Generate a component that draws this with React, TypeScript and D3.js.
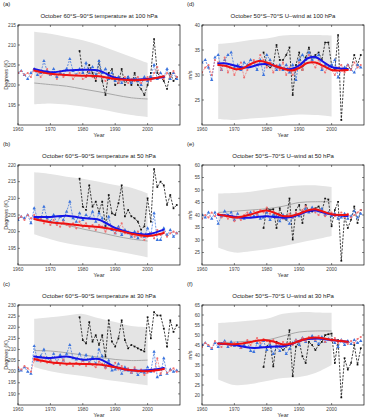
import * as d3 from 'd3';
import * as React from 'react';

const width = 366;
const height = 420;
const panelW = 162;
const panelH = 100;
const font = '"Liberation Sans", Arial, sans-serif';

const years = d3.range(1960, 2010);
const obsYears = d3.range(1979, 2010);
const bandYears = [1965, 1970, 1975, 1980, 1985, 1990, 1995, 2000];
const fitYears5 = [1965, 1970, 1975, 1980, 1985, 1990, 1995, 2000, 2005];
const fitYears25 = [1965, 1967.5, 1970, 1972.5, 1975, 1977.5, 1980, 1982.5, 1985, 1987.5, 1990, 1992.5, 1995, 1997.5, 2000, 2002.5, 2005];

// (a) temperature 100 hPa
const aBlue = [203, 203.5, 202.5, 201.5, 203, 204, 202.5, 203, 206, 203.5, 202.5, 204, 202, 203, 202.5, 204, 206.5, 203.5, 202.5, 204, 203, 205.5, 203, 204.5, 202.5, 206, 203, 204, 201.5, 203, 201, 202, 200.5, 201.5, 202, 200.5, 201.5, 201, 200, 202, 201, 202, 205, 201.5, 203, 202, 204, 201.5, 203, 201.5];
const aRed = [203, 203.5, 202.5, 203, 202, 204, 203.5, 202, 203, 204, 202.5, 203, 201.5, 203.5, 202, 202.5, 203, 201.5, 202.5, 203, 201.5, 202, 203.5, 202, 201.5, 203, 202, 201, 202.5, 201.5, 202, 200.5, 201.5, 202, 200.5, 201.5, 201, 202, 200.5, 201.5, 202, 201, 203, 204.5, 202, 201.5, 203, 202, 203.5, 202];
const aObs = [208.5, 203, 202, 205, 203, 201, 206, 201, 197.5, 203, 204, 200, 200.5, 204, 200, 202, 200, 203, 200, 199, 197.5, 200, 203, 211.5, 203, 202, 201, 199, 203, 201, 202];
const aBandHi = [213.3, 212.8, 212, 211.2, 210, 208.5, 207, 205.5];
const aBandLo = [195.2, 195.4, 195.1, 194.6, 194, 193.2, 192.5, 192];
const aGray = [200.5, 200.1, 199.7, 199, 198.3, 197.5, 196.8, 196.5];
const aBlueFit = [204, 203.2, 203.6, 203.8, 203.6, 201.8, 201.3, 201.5, 202];
const aRedFit = [203.6, 202.8, 202.5, 202.3, 202.2, 201.5, 201.2, 201.4, 202.2];

// (b) temperature 50 hPa
const bBlue = [203.5, 204.5, 204, 205, 202.5, 207, 204, 203.5, 207.5, 204, 203, 205, 202.5, 204.5, 203.5, 206, 209, 204, 203, 205.5, 203.5, 205, 204, 206, 203, 205.5, 204, 201, 204.5, 200.5, 199.5, 201.5, 199, 200.5, 199.5, 198.5, 200, 198, 199.5, 198.5, 201, 199, 205.5, 197.5, 197.5, 201, 199, 200.5, 198.5, 199.5];
const bRed = [204, 204.5, 203.5, 205, 204, 205, 203.5, 204, 202.5, 203.5, 202, 203.5, 202, 201.5, 203, 202, 201.5, 202.5, 201, 203, 201.5, 202.5, 201, 202, 200.5, 202, 201.5, 200, 202, 201, 199.5, 201, 202.5, 199.5, 200, 199, 198.5, 200, 198.5, 197.5, 198.5, 199.5, 198, 200.5, 199, 200, 198.5, 199.5, 200, 199.5];
const bObs = [215.9, 207.5, 206.5, 213.9, 207.5, 209, 206, 209, 201.6, 211, 205.5, 205, 208.5, 213.9, 204.6, 206.5, 204.6, 204, 203, 200.6, 201.6, 210, 203, 218.8, 213.4, 215, 213.9, 208, 211, 207, 208];
const bBandHi = [217.8, 217.3, 216.5, 215.9, 215, 214, 213.2, 211.5];
const bBandLo = [199.2, 197.7, 196.5, 195.7, 195, 194.2, 193.3, 192.3];
const bGray = [204.2, 203, 202, 200.8, 199.8, 198.7, 197.8, 197.2];
const bBlueFit = [204.4, 204.4, 204.8, 204.1, 203.6, 201.1, 199.6, 199.2, 200.6];
const bRedFit = [203.8, 202.8, 202.4, 201.8, 201.4, 200.6, 199.4, 198.7, 199.6];

// (c) temperature 30 hPa
const cBlue = [201, 200.5, 202, 200, 199, 211.5, 205, 207, 210, 206, 205, 208, 204, 207.5, 205, 208, 212, 206, 205.5, 208, 205, 207.5, 204, 206.5, 203.5, 210, 207, 202, 205, 200.5, 201, 203.5, 199, 202, 200.5, 199.5, 201, 198.5, 200, 199.5, 202, 200, 209, 197.5, 198.5, 206, 199, 201, 200, 200.5];
const cRed = [202, 201, 202.5, 201.5, 200, 205, 206, 204.5, 206.5, 204, 205, 203.5, 204.5, 203, 205.5, 203, 204, 202.5, 204, 203, 205, 202.5, 204, 203, 202, 204.5, 203.5, 201.5, 203, 202, 204, 201, 202.5, 200.5, 201.5, 199.5, 202, 200, 201, 198.5, 199.5, 201, 200, 206, 199, 201.5, 199.5, 200.5, 201.5, 200];
const cObs = [224.5, 214.2, 212.7, 222.3, 213.5, 216.4, 212, 216.4, 206.8, 223.1, 213.5, 211.3, 215, 223.1, 214.2, 210.5, 212, 211.3, 210.5, 209.8, 209.1, 224.5, 215, 226.8, 225.3, 225.3, 219.4, 211.3, 223.1, 217.9, 220.9];
const cBandHi = [223.8, 224.5, 225.3, 226, 224, 222.3, 220.5, 220];
const cBandLo = [202.1, 200.2, 199, 198, 196.8, 195.8, 194.8, 193.9];
const cGray = [209.5, 209.3, 208.5, 207.5, 206.5, 205.5, 205, 205.2];
const cBlueFit = [206.8, 206.1, 206.8, 205.4, 205.7, 202.1, 200.6, 200.6, 201.7];
const cRedFit = [205.7, 204.2, 203.6, 203.5, 203.2, 202, 200.6, 200.2, 201.2];

// (d) U-wind 100 hPa
const dBlue = [32.5, 33, 31.5, 29, 33.5, 34, 31, 33, 34, 34.5, 31.5, 32, 31, 32.5, 32, 33, 32.5, 31, 33, 30, 34, 33, 32, 31, 32, 31, 32, 30.5, 32, 29, 33, 34, 33, 34.5, 33, 33.5, 34, 31, 32, 31.5, 32, 33, 29.5, 31, 31.5, 32, 31, 30.5, 32, 31.5];
const dRed = [30.5, 31.5, 32, 30, 33, 32.5, 31, 33.5, 30.5, 32, 30, 31.5, 32.5, 29.5, 31, 32, 33, 32, 34, 33, 31.5, 32.5, 30.5, 32, 31, 32.5, 30, 31.5, 30, 31, 32.5, 31, 33, 34, 32.5, 31.5, 33, 31.5, 30.5, 32, 31, 30, 31.5, 32, 30.5, 32, 31, 32.5, 31.5, 32];
const dObs = [34.5, 32, 31.5, 32, 36, 33, 33, 34, 35.5, 26, 32, 34.5, 31, 33.5, 35.5, 33, 34, 34.5, 33, 36.5, 36.5, 32, 31, 38, 21, 31, 32, 31, 34, 32, 34];
const dBandHi = [36.2, 36.5, 37, 37.3, 37.9, 38, 38, 37.9];
const dBandLo = [21.2, 21, 21.3, 21.5, 21.8, 22.1, 22, 21.7];
const dBlueFit = [32.3, 32.3, 31.9, 31.5, 31.6, 32.1, 32.2, 31.8, 31.3, 31.2, 31.9, 33.3, 33.6, 32.6, 31.6, 31.3, 31.2];
const dRedFit = [32, 31.8, 31.2, 31.3, 32.2, 32.8, 32.5, 31.8, 31.3, 30.9, 31.4, 32.4, 32.5, 31.8, 31, 30.9, 31];

// (e) U-wind 50 hPa
const eBlue = [40, 39, 41, 38.5, 41, 36.5, 39.5, 41.5, 40, 41, 38, 40.5, 39, 38.5, 40, 41, 39.5, 40.5, 38.5, 39, 41, 38, 40, 39.5, 37.5, 40, 38.5, 36.5, 39, 40.5, 39.5, 41.5, 42.5, 41, 43, 42, 41.5, 42.5, 40, 41, 39.5, 40.5, 38.5, 39, 40.5, 38.5, 39.5, 41.5, 39, 40.5];
const eRed = [38.5, 40, 39, 41, 39.5, 40.5, 39, 40, 38.5, 39.5, 37.5, 39, 38, 40, 41, 39.5, 41.5, 40, 42, 41, 43, 40.5, 41.5, 39, 40, 38.5, 39.5, 40.5, 39, 41, 40, 42, 43.5, 41.5, 42, 41, 40, 41.5, 39.5, 40.5, 41, 39.5, 40, 41, 39, 40.5, 39, 40, 41, 42];
const eObs = [34.8, 42.7, 42, 42.3, 34.8, 42.7, 38.8, 38.1, 46.6, 30.2, 42, 44, 36.8, 44, 41.4, 41.4, 42.7, 43.4, 41.4, 46.6, 46.2, 35.5, 42, 45.3, 21.7, 39.4, 34.8, 38.1, 43.4, 36.8, 42];
const eBandHi = [48.6, 48.8, 49.3, 50.3, 51.2, 51.8, 51.9, 51.2];
const eBandLo = [27, 25, 25.5, 26.3, 27.5, 28.9, 30.2, 31.6];
const eGray = [41, 41.5, 42, 42.5, 43.5, 45, 45.3, 45.3];
const eBlueFit = [40, 39.8, 39.3, 38.9, 38.9, 39.3, 39.5, 39.2, 38.9, 39.2, 40.2, 41.4, 41.8, 41, 40.2, 39.8, 39.6];
const eRedFit = [40.2, 39.6, 39, 39.4, 40.2, 41.2, 41.8, 40.8, 39.6, 39.6, 40.5, 41.8, 42.3, 41.3, 40.3, 40, 40.1];

// (f) U-wind 30 hPa
const fBlue = [45, 46, 44.5, 43, 46, 44, 45.5, 47, 44, 46.5, 44.5, 46, 43.5, 45, 46.5, 42, 41.5, 46, 44.5, 47, 42.5, 45, 40.5, 44, 42, 44.5, 40.5, 43, 46, 47.5, 45, 48.5, 46.5, 48, 49.5, 47, 45.5, 49, 46.5, 48, 47.5, 46, 44, 47.5, 45, 47, 45.5, 47.5, 46, 47];
const fRed = [44, 46, 45, 43.5, 47, 45.5, 44, 46.5, 45, 44.5, 46, 45, 43.5, 46, 47.5, 45, 47, 48.5, 46, 48, 47, 46, 47.5, 45, 44, 46.5, 44.5, 46, 45, 47.5, 46.5, 48.5, 47, 49, 48, 47.5, 49.5, 48, 46.5, 48, 47, 48.5, 46, 47.5, 46.5, 45.5, 47, 46, 48, 49];
const fObs = [34, 44.2, 46.6, 34.3, 46.6, 44.2, 42.5, 44.2, 52.4, 29.4, 44.2, 46.6, 39.3, 36, 46.6, 45, 42.5, 45, 46.6, 49.9, 50.4, 50.7, 36, 47.5, 18.8, 38.4, 32.7, 36, 45, 35.2, 43.4];
const fBandHi = [56, 56.5, 57.2, 58.1, 60.6, 61.4, 61.3, 61.1];
const fBandLo = [27.8, 25, 25.5, 27, 28.5, 29, 31, 35];
const fGray = [46, 46.5, 47, 47.5, 49.5, 51.5, 52, 52];
const fBlueFit = [45.8, 45.5, 45, 44.3, 43.6, 43.6, 44, 44.3, 44.4, 45.4, 47, 48, 48.3, 48, 47.5, 47, 46.6];
const fRedFit = [45.8, 45.6, 45.4, 45.8, 46.5, 47.3, 47.4, 46.5, 45.3, 45.6, 47, 48.3, 48.8, 48.3, 47.6, 47, 46.6];

const tempTicks100 = [195, 200, 205, 210, 215];
const tempTicks50 = [195, 200, 205, 210, 215, 220];
const tempTicks30 = [190, 195, 200, 205, 210, 215, 220, 225, 230];
const windTicks100 = [25, 30, 35, 40];
const windTicks50 = [25, 30, 35, 40, 45, 50, 55, 60];
const windTicks30 = [20, 25, 30, 35, 40, 45, 50, 55, 60, 65];
const yearTicks = [1960, 1970, 1980, 1990, 2000];

type PanelCfg = {
  tag: string;
  title: string;
  yLabel: string;
  yDomain: [number, number];
  yTicks: number[];
  blue: number[];
  red: number[];
  obs: number[];
  bandHi: number[];
  bandLo: number[];
  gray: number[] | null;
  fitYears: number[];
  blueFit: number[];
  redFit: number[];
  x0: number;
  y0: number;
};

const panels: PanelCfg[] = [
  { tag: '(a)', title: 'October 60°S–90°S temperature at 100 hPa', yLabel: 'Degrees (K)', yDomain: [190, 215], yTicks: tempTicks100, blue: aBlue, red: aRed, obs: aObs, bandHi: aBandHi, bandLo: aBandLo, gray: aGray, fitYears: fitYears5, blueFit: aBlueFit, redFit: aRedFit, x0: 18, y0: 25 },
  { tag: '(b)', title: 'October 60°S–90°S temperature at 50 hPa', yLabel: 'Degrees (K)', yDomain: [190, 220], yTicks: tempTicks50, blue: bBlue, red: bRed, obs: bObs, bandHi: bBandHi, bandLo: bBandLo, gray: bGray, fitYears: fitYears5, blueFit: bBlueFit, redFit: bRedFit, x0: 18, y0: 165 },
  { tag: '(c)', title: 'October 60°S–90°S temperature at 30 hPa', yLabel: 'Degrees (K)', yDomain: [185, 230], yTicks: tempTicks30, blue: cBlue, red: cRed, obs: cObs, bandHi: cBandHi, bandLo: cBandLo, gray: cGray, fitYears: fitYears5, blueFit: cBlueFit, redFit: cRedFit, x0: 18, y0: 305 },
  { tag: '(d)', title: 'October 50°S–70°S U–wind at 100 hPa', yLabel: 'm/s', yDomain: [20, 40], yTicks: windTicks100, blue: dBlue, red: dRed, obs: dObs, bandHi: dBandHi, bandLo: dBandLo, gray: null, fitYears: fitYears25, blueFit: dBlueFit, redFit: dRedFit, x0: 202, y0: 25 },
  { tag: '(e)', title: 'October 50°S–70°S U–wind at 50 hPa', yLabel: 'm/s', yDomain: [20, 60], yTicks: windTicks50, blue: eBlue, red: eRed, obs: eObs, bandHi: eBandHi, bandLo: eBandLo, gray: eGray, fitYears: fitYears25, blueFit: eBlueFit, redFit: eRedFit, x0: 202, y0: 165 },
  { tag: '(f)', title: 'October 50°S–70°S U–wind at 30 hPa', yLabel: 'm/s', yDomain: [15, 65], yTicks: windTicks30, blue: fBlue, red: fRed, obs: fObs, bandHi: fBandHi, bandLo: fBandLo, gray: fGray, fitYears: fitYears25, blueFit: fBlueFit, redFit: fRedFit, x0: 202, y0: 305 },
];

const triUp = d3.symbol(d3.symbolTriangle, 5)()!;
const dot = d3.symbol(d3.symbolCircle, 3.5)()!;
const square = d3.symbol(d3.symbolSquare, 3)()!;

function Panel({ p, idx }: { p: PanelCfg; idx: number }) {
  const x = d3.scaleLinear().domain([1960, 2010]).range([p.x0, p.x0 + panelW]);
  const y = d3.scaleLinear().domain(p.yDomain).range([p.y0 + panelH, p.y0]);
  const bottom = p.y0 + panelH;
  const right = p.x0 + panelW;
  const clipId = `clip-${idx}`;

  const band = d3
    .area<number>()
    .x((_, i) => x(bandYears[i]))
    .y0((_, i) => y(p.bandLo[i]))
    .y1(d => y(d))
    .curve(d3.curveCatmullRom);
  const bandLine = d3
    .line<number>()
    .x((_, i) => x(bandYears[i]))
    .y(d => y(d))
    .curve(d3.curveCatmullRom);
  const yearly = d3
    .line<number>()
    .x((_, i) => x(years[i]))
    .y(d => y(d));
  const obsLine = d3
    .line<number>()
    .x((_, i) => x(obsYears[i]))
    .y(d => y(d));
  const fit = d3
    .line<number>()
    .x((_, i) => x(p.fitYears[i]))
    .y(d => y(d))
    .curve(d3.curveCatmullRom);

  const midX = (p.x0 + right) / 2;
  const midY = (p.y0 + bottom) / 2;

  return (
    <g>
      <defs>
        <clipPath id={clipId}>
          <rect x={p.x0} y={p.y0} width={panelW} height={panelH} />
        </clipPath>
      </defs>
      <text x={p.x0 - 15} y={p.y0 - 19} fontSize={6} fill="#222">{p.tag}</text>
      <text x={midX} y={p.y0 - 7} fontSize={6} fill="#222" textAnchor="middle">{p.title}</text>

      <g clipPath={`url(#${clipId})`}>
        <path d={band(p.bandHi) ?? ''} fill="#e4e4e4" />
        {p.gray && <path d={bandLine(p.gray) ?? ''} fill="none" stroke="#a8a8a8" strokeWidth={1} />}

        <path d={obsLine(p.obs) ?? ''} fill="none" stroke="#111" strokeWidth={0.8} strokeDasharray="2.2,1.3" />
        {p.obs.map((v, i) => (
          <path key={`o${i}`} d={square} transform={`translate(${x(obsYears[i])},${y(v)})`} fill="#111" />
        ))}

        <path d={yearly(p.blue) ?? ''} fill="none" stroke="#3b73dd" strokeWidth={0.75} strokeDasharray="2,1.2" />
        {p.blue.map((v, i) => (
          <path key={`b${i}`} d={triUp} transform={`translate(${x(years[i])},${y(v)})`} fill="#3b73dd" />
        ))}

        <path d={yearly(p.red) ?? ''} fill="none" stroke="#f07070" strokeWidth={0.75} strokeDasharray="2,1.2" />
        {p.red.map((v, i) => (
          <path key={`r${i}`} d={dot} transform={`translate(${x(years[i])},${y(v)})`} fill="#f07070" />
        ))}

        <path d={fit(p.blueFit) ?? ''} fill="none" stroke="#1414e6" strokeWidth={2} strokeLinecap="round" />
        <path d={fit(p.redFit) ?? ''} fill="none" stroke="#ee1111" strokeWidth={2} strokeLinecap="round" />
      </g>

      <rect x={p.x0} y={p.y0} width={panelW} height={panelH} fill="none" stroke="#111" strokeWidth={0.7} />

      {p.yTicks.map(t => (
        <g key={`yt${t}`}>
          <line x1={p.x0} x2={p.x0 + 2} y1={y(t)} y2={y(t)} stroke="#111" strokeWidth={0.5} />
          <line x1={right - 2} x2={right} y1={y(t)} y2={y(t)} stroke="#111" strokeWidth={0.5} />
          <text x={p.x0 - 2} y={y(t) + 1.7} fontSize={4.8} fill="#444" textAnchor="end">{t}</text>
        </g>
      ))}
      {yearTicks.map(t => (
        <g key={`xt${t}`}>
          <line x1={x(t)} x2={x(t)} y1={bottom} y2={bottom - 2} stroke="#111" strokeWidth={0.5} />
          <line x1={x(t)} x2={x(t)} y1={p.y0} y2={p.y0 + 2} stroke="#111" strokeWidth={0.5} />
          <text x={x(t)} y={bottom + 6} fontSize={4.8} fill="#444" textAnchor="middle">{t}</text>
        </g>
      ))}

      <text x={midX} y={bottom + 12} fontSize={5.5} fill="#333" textAnchor="middle">Year</text>
      <text
        transform={`translate(${p.x0 - 10},${midY}) rotate(-90)`}
        fontSize={5.5}
        fill="#333"
        textAnchor="middle"
      >
        {p.yLabel}
      </text>
    </g>
  );
}

export default function App() {
  return (
    <svg
      width={width}
      height={height}
      viewBox={`0 0 ${width} ${height}`}
      style={{ position: 'absolute', left: 0, top: 0, background: '#fff', fontFamily: font }}
    >
      {panels.map((p, i) => (
        <Panel key={p.tag} p={p} idx={i} />
      ))}
    </svg>
  );
}
